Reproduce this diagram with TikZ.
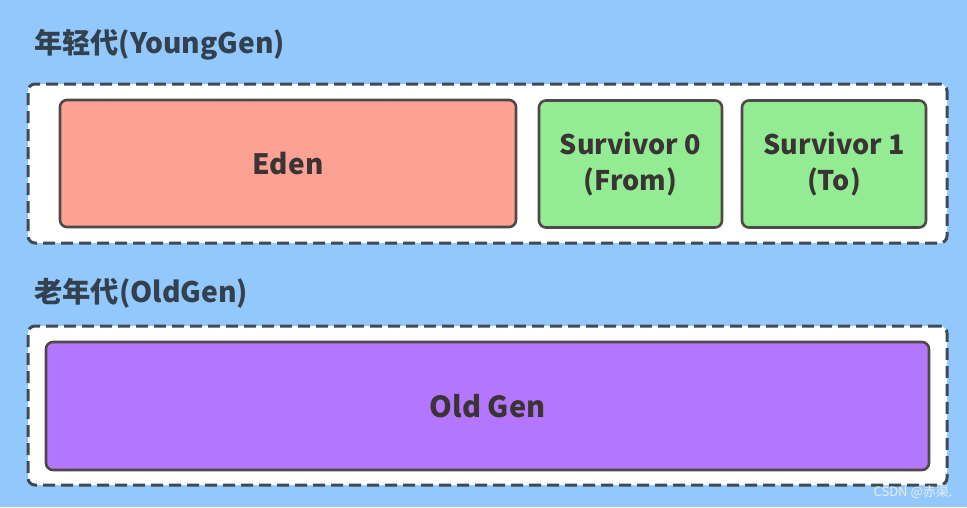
\documentclass[tikz,border=0pt]{standalone}
\usepackage{fontspec}
\setmainfont{Noto Sans CJK SC}
\usepackage{xcolor}
\usepackage{tikz}
\usetikzlibrary{positioning}
\definecolor{bgblue}{HTML}{92C8FC}
\definecolor{edgegray}{HTML}{3E4A54}
\definecolor{labelcol}{HTML}{33414E}
\definecolor{textcol}{HTML}{3B3434}
\definecolor{edenred}{HTML}{FCA193}
\definecolor{survgreen}{HTML}{93EC93}
\definecolor{oldpurple}{HTML}{B476FE}
\tikzset{
    genframe/.style={draw=edgegray, fill=white, line width=3pt,
        dash pattern=on 12pt off 6pt, rounded corners=7pt, inner sep=0pt},
    space/.style={draw=textcol!90, line width=2.6pt, rounded corners=7pt,
        text=textcol, align=center, inner sep=0pt, font=\bfseries\fontsize{27}{36}\selectfont},
    genlabel/.style={anchor=west, text=labelcol, inner sep=0pt, font=\bfseries\fontsize{27}{30}\selectfont}
}
\begin{document}
\begin{tikzpicture}[x=1pt, y=-1pt]
    \fill[bgblue] (0,0) rectangle (967,507);
    % young generation
    \node[genlabel] (younglabel) at (34,45) {\resizebox{251pt}{!}{年轻代(YoungGen)}};
    \node[genframe, minimum width=919pt, minimum height=159pt] (young) at (487.5,163.5) {};
    \node[space, fill=edenred, minimum width=456pt, minimum height=127pt] (eden) at (288,163.5) {\fontsize{28}{32}\selectfont Eden};
    \node[space, fill=survgreen, minimum width=183pt, minimum height=127pt] (s0) at (630.5,164) {Survivor 0\\(From)};
    \node[space, fill=survgreen, minimum width=184pt, minimum height=127pt] (s1) at (834,164) {Survivor 1\\(To)};
    % old generation
    \node[genlabel] (oldlabel) at (34,293) {\resizebox{214pt}{!}{老年代(OldGen)}};
    \node[genframe, minimum width=919pt, minimum height=159pt] (old) at (487.5,405.5) {};
    \node[space, fill=oldpurple, minimum width=883pt, minimum height=128pt] (oldgen) at (487.5,406) {\fontsize{29}{32}\selectfont Old Gen};
    % watermark
    \node[text=white!85!gray, inner sep=0pt, font=\fontsize{13}{14}\selectfont] (mark) at (913,492) {CSDN @赤渠.};
\end{tikzpicture}
\end{document}
